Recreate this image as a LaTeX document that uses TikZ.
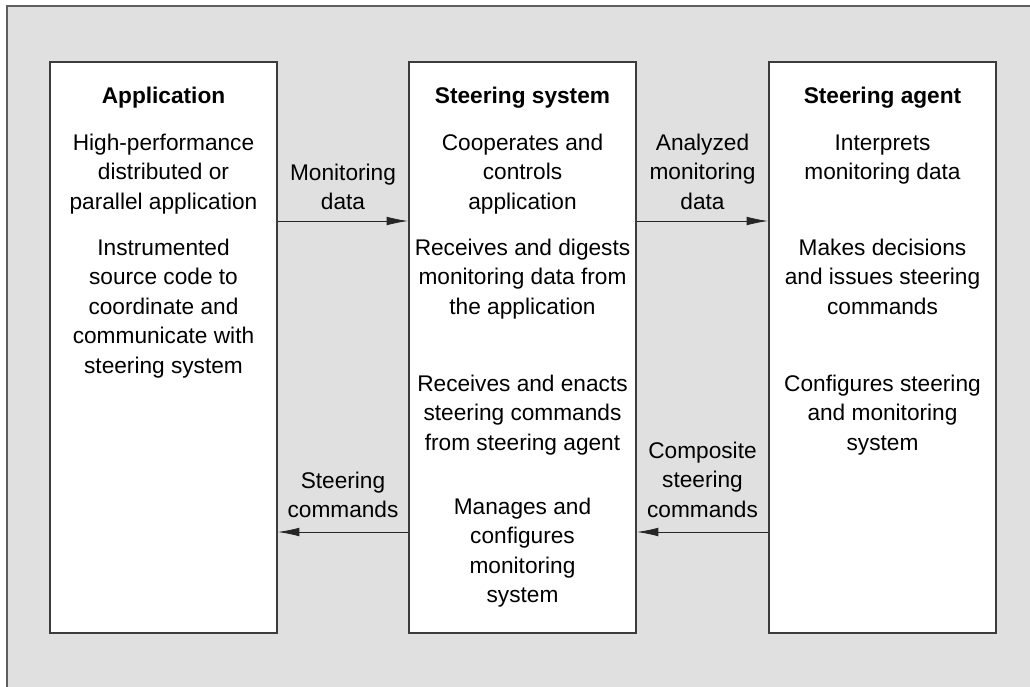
\documentclass[tikz,border=0pt]{standalone}
\usepackage{fontspec}
\setmainfont{Liberation Sans}
\usetikzlibrary{positioning,arrows.meta}
\definecolor{bggray}{RGB}{224,224,224}
\definecolor{framegray}{RGB}{95,95,95}
\definecolor{boxline}{RGB}{60,60,60}
\begin{document}
\begin{tikzpicture}[x=0.75pt, y=-0.75pt]
    \tikzstyle{every node}=[font=\fontsize{17}{22.2}\selectfont, align=center]
    \tikzset{
        n/.style={draw=boxline, line width=1.5pt, fill=white, inner sep=0pt, minimum width=170.25pt, minimum height=428.25pt},
        t/.style={anchor=base, inner sep=0pt},
        h/.style={t, font=\fontsize{17}{22.2}\selectfont\bfseries},
        a/.style={draw=black!85, line width=0.6pt, -{Latex[length=16pt, width=6.5pt]}}
        }

    \useasboundingbox (0,0) rectangle (1030,686);
    \clip (0,0) rectangle (1030,686);

    %background
    \draw[framegray, line width=1.2pt, fill=bggray] (7,6) rectangle (1045,700);

    %boxes
    \node (app) [n] at (163.5,347.5) {};
    \node (sys) [n] at (522.5,347.5) {};
    \node (agent) [n] at (882.5,347.5) {};

    %application (base = last line)
    \node (apptitle) [h] at (163.5,103) {Application};
    \node (apphpc) [t] at (163.5,209.2) {High-performance\\distributed or\\parallel application};
    \node (appsrc) [t] at (163.5,373.4) {Instrumented\\source code to\\coordinate and\\communicate with\\steering system};

    %steering system
    \node (systitle) [h] at (522.5,103) {Steering system};
    \node (syscoop) [t] at (522.5,209.2) {Cooperates and\\controls\\application};
    \node (sysdigest) [t] at (522.5,314.2) {Receives and digests\\monitoring data from\\the application};
    \node (sysenact) [t] at (522.5,450.2) {Receives and enacts\\steering commands\\from steering agent};
    \node (sysmanage) [t] at (522.5,602.8) {Manages and\\configures\\monitoring\\system};

    %steering agent
    \node (agenttitle) [h] at (882.5,103) {Steering agent};
    \node (agentint) [t] at (882.5,179.6) {Interprets\\monitoring data};
    \node (agentdec) [t] at (882.5,314.2) {Makes decisions\\and issues steering\\commands};
    \node (agentconf) [t] at (882.5,450.2) {Configures steering\\and monitoring\\system};

    %labels
    \node (mon) [t] at (343,209.6) {Monitoring\\data};
    \node (anamon) [t] at (702.5,209.2) {Analyzed\\monitoring\\data};
    \node (steer) [t] at (343,517.6) {Steering\\commands};
    \node (compsteer) [t] at (702.5,517.2) {Composite\\steering\\commands};

    \coordinate (toprow) at (0,221);
    \coordinate (botrow) at (0,532);

    \draw[a] (app.east |- toprow) -- (sys.west |- toprow);
    \draw[a] (sys.east |- toprow) -- (agent.west |- toprow);
    \draw[a] (sys.west |- botrow) -- (app.east |- botrow);
    \draw[a] (agent.west |- botrow) -- (sys.east |- botrow);
\end{tikzpicture}
\end{document}
